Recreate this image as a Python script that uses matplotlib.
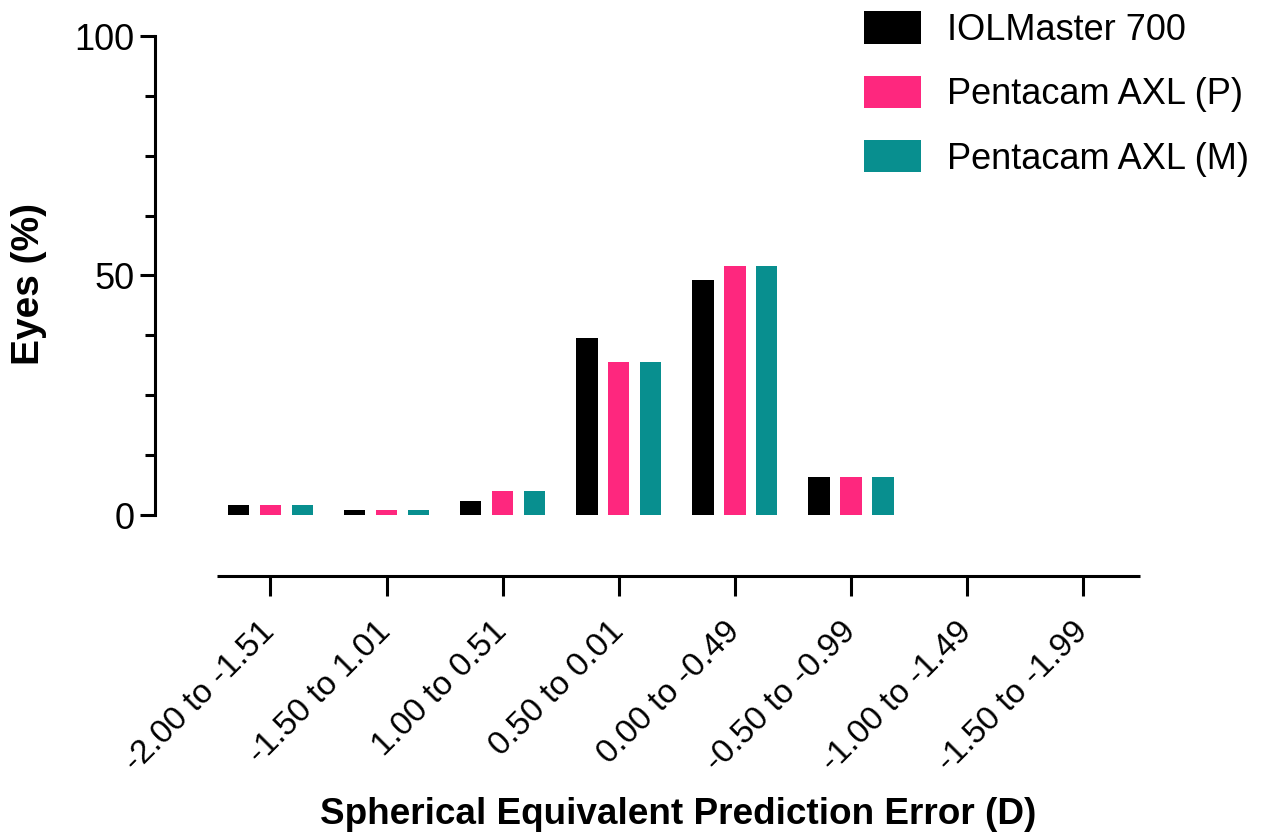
import matplotlib
matplotlib.use("Agg")
import matplotlib.pyplot as plt
import numpy as np
from matplotlib.ticker import MultipleLocator

categories = ["-2.00 to -1.51", "-1.50 to 1.01", "1.00 to 0.51", "0.50 to 0.01",
              "0.00 to -0.49", "-0.50 to -0.99", "-1.00 to -1.49", "-1.50 to -1.99"]
series_names = ["IOLMaster 700", "Pentacam AXL (P)", "Pentacam AXL (M)"]
iolmaster = [2, 1, 3, 37, 49, 8, 0, 0]
pentacam_p = [2, 1, 5, 32, 52, 8, 0, 0]
pentacam_m = [2, 1, 5, 32, 52, 8, 0, 0]
colors = ["#000000", "#FE277E", "#088F8F"]

plt.rcParams['font.family'] = ['Liberation Sans', 'DejaVu Sans']

fig = plt.figure(figsize=(12.62, 8.38), dpi=100)
ax = fig.add_axes([217/1262, 1-515/838, (1140-217)/1262, (515-36)/838])

x = np.arange(len(categories))
offsets = [-0.275, 0.0, 0.275]
width = 0.185
handles = []
for vals, off, c, name in zip([iolmaster, pentacam_p, pentacam_m], offsets, colors, series_names):
    h = ax.bar(x + off, vals, width=width, color=c, label=name, linewidth=0)
    handles.append(h)

ax.set_xlim(-0.46, 7.49)
ax.set_ylim(0, 100)
ax.spines['top'].set_visible(False)
ax.spines['right'].set_visible(False)
ax.spines['left'].set_position(('outward', 44.6))
ax.spines['bottom'].set_position(('outward', 44))
for s in ['left', 'bottom']:
    ax.spines[s].set_linewidth(2.2)
ax.spines['left'].set_capstyle('projecting')
ax.spines['bottom'].set_capstyle('butt')

ax.yaxis.set_major_locator(MultipleLocator(50))
ax.yaxis.set_minor_locator(MultipleLocator(12.5))
ax.tick_params(axis='y', which='major', length=11, width=2.2, labelsize=26, pad=4)
ax.tick_params(axis='y', which='minor', length=7, width=2.2)
ax.set_xticks(x)
ax.set_xticklabels(categories, rotation=45, ha='right', va='center',
                   rotation_mode='anchor', fontsize=24)
ax.tick_params(axis='x', which='major', length=14.5, width=2.2, pad=22)

ax.set_ylabel("Eyes (%)", fontsize=28, fontweight='bold')
ax.yaxis.set_label_coords((47-217)/923, (515-283.5)/479)
ax.set_xlabel("Spherical Equivalent Prediction Error (D)", fontsize=26.6, fontweight='bold',
              labelpad=14)

fig.legend(handles=handles, labels=series_names, loc='upper left',
           bbox_to_anchor=(850/1262, 1+3/838), frameon=False, fontsize=26,
           handlelength=1.58, handleheight=1.0, handletextpad=0.7, labelspacing=0.77,
           borderaxespad=0)

fig.savefig("out.png", dpi=100)
